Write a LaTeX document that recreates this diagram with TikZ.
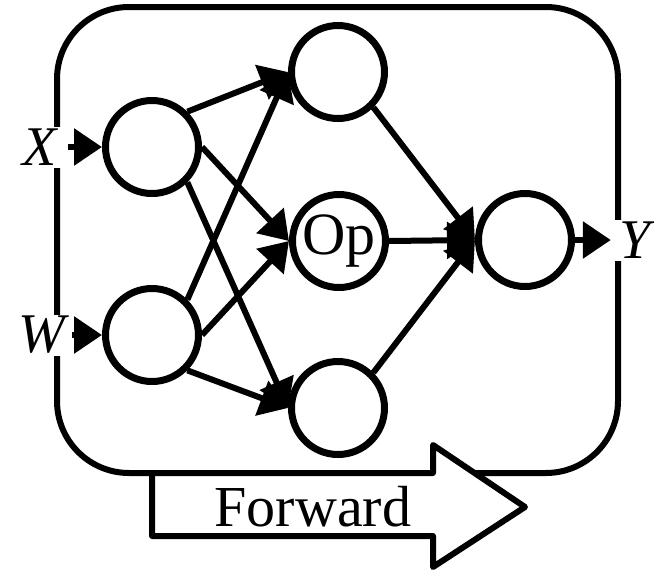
\documentclass[tikz,border=0pt]{standalone}
\usepackage{fontspec}
\setmainfont{Liberation Serif}
\usetikzlibrary{arrows.meta}

\tikzset{
  neuron/.style={circle, draw, line width=7pt, minimum size=93pt, inner sep=0pt, fill=white},
  conn/.style={line width=6pt, -{Triangle[length=28pt,width=36pt]}},
  iolabel/.style={fill=white, inner sep=0pt, minimum height=41pt,
    font=\fontsize{56}{58}\selectfont\itshape},
  frame/.style={line width=6pt, rounded corners=72pt},
  fwdarrow/.style={line width=6pt, line join=round, fill=white},
}

\begin{document}
\begin{tikzpicture}[x=1pt, y=-1pt]
  \useasboundingbox (0,0) rectangle (654,571);

  % operator frame
  \draw[frame] (57,7) rectangle (618,473);

  % inputs and output labels sitting on the frame
  \node[iolabel, minimum width=56pt] (X) at (40,147) {X};
  \node[iolabel, minimum width=60pt] (W) at (42,335) {W};
  \node[iolabel, minimum width=48pt] (Y) at (635,240) {Y};

  % forward direction arrow
  \draw[fwdarrow] (152,473) -- (433,473) -- (433,445) -- (525,507)
    -- (433,567) -- (433,536) -- (152,536) -- cycle;
  \node[font=\fontsize{58}{60}\selectfont] (fwd) at (313,507) {Forward};

  % neurons
  \node[neuron] (I1) at (152,147) {};
  \node[neuron] (I2) at (152,335) {};
  \node[neuron] (H1) at (338,72) {};
  \node[neuron, font=\fontsize{60}{62}\selectfont] (H2) at (339,241) {Op};
  \node[neuron] (H3) at (338,408) {};
  \node[neuron] (O)  at (525,240) {};

  % connections: edges leave from compass points and end on the target's west point
  \draw[conn] (X.east) -- (I1);
  \draw[conn] (W.east) -- (I2);
  \foreach \s in {I1,I2}{
    \draw[conn] (\s.north east) -- (H1.west);
    \draw[conn] (\s.east) -- (H2.west);
    \draw[conn] (\s.south east) -- (H3.west);
  }
  \draw[conn] (H1.south east) -- (O.west);
  \draw[conn] (H2.east) -- (O.west);
  \draw[conn] (H3.north east) -- (O.west);
  \draw[conn] (O) -- (Y.west);
\end{tikzpicture}
\end{document}
